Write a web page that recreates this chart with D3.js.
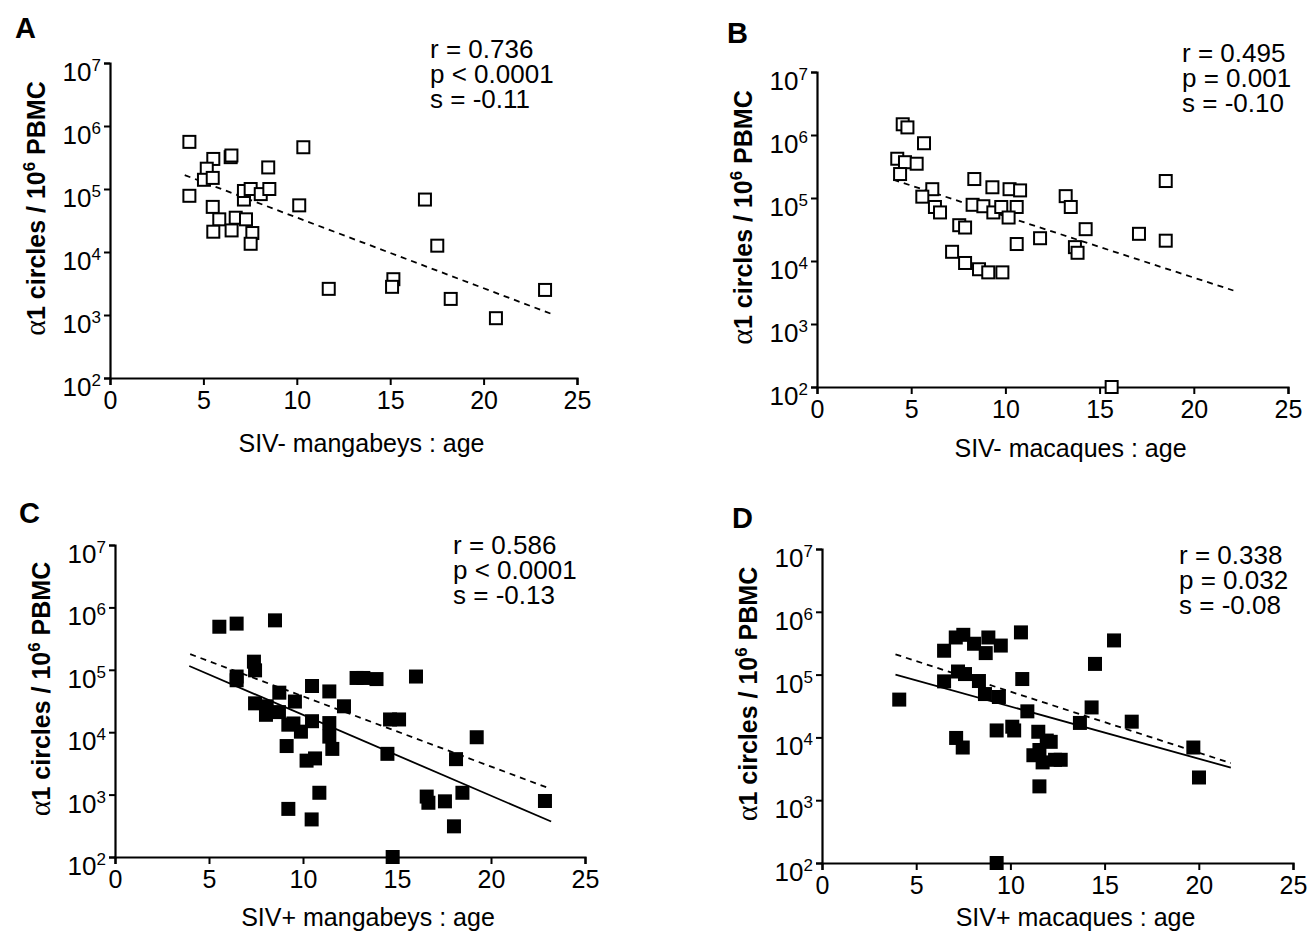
<!DOCTYPE html>
<html lang="en">
    <head>
        <meta charset="utf-8" />
        <title>alpha1 circles vs age</title>
        <script src="https://cdn.jsdelivr.net/npm/d3@7"></script>
        <style>
            body {
                margin: 0;
                background: #fff;
            }
            svg text {
                font-family: "Liberation Sans", Arial, Helvetica, sans-serif;
                fill: #000;
            }
        </style>
    </head>
    <body>
        <div id="chart"></div>

        <script>
            // ages and alpha1 circles per 10^6 PBMC
            var ageA = [4.25, 4.25, 5.53, 5.18, 5.03, 5.5, 6.46, 6.5, 5.5, 5.85, 5.53, 6.51, 6.73, 7.28, 7.17, 7.17, 7.53, 8.07, 8.53, 8.47, 7.62, 7.53, 10.13, 10.35, 11.71, 15.17, 15.1, 16.86, 17.52, 18.24, 20.66, 23.29];
            var circlesA = [5.6e5, 7.8e4, 3.0e5, 2.1e5, 1.4e5, 1.5e5, 3.2e5, 3.4e5, 5.2e4, 3.3e4, 2.1e4, 2.2e4, 3.5e4, 3.3e4, 6.8e4, 9.3e4, 1.0e5, 8.3e4, 1.0e5, 2.2e5, 2.0e4, 1.35e4, 5.5e4, 4.6e5, 2.6e3, 3.7e3, 2.8e3, 6.8e4, 1.26e4, 1.8e3, 890, 2.5e3];

            var ageB = [4.55, 4.8, 5.68, 4.26, 4.67, 5.29, 4.41, 6.12, 5.59, 6.26, 6.53, 7.55, 7.86, 7.17, 7.86, 8.6, 9.09, 9.84, 8.35, 8.26, 8.83, 9.31, 9.36, 9.78, 10.22, 10.78, 10.6, 10.17, 10.6, 11.84, 13.2, 13.47, 14.26, 13.69, 13.83, 15.64, 17.09, 18.51, 18.51];
            var circlesB = [1.48e6, 1.32e6, 7.4e5, 4.2e5, 3.7e5, 3.5e5, 2.4e5, 1.38e5, 1.05e5, 7.2e4, 5.9e4, 3.7e4, 3.4e4, 1.4e4, 9.3e3, 7.4e3, 6.6e3, 6.6e3, 2.0e5, 7.8e4, 7.4e4, 1.48e5, 5.9e4, 7.2e4, 1.38e5, 1.32e5, 7.2e4, 4.9e4, 1.86e4, 2.3e4, 1.07e5, 7.2e4, 3.2e4, 1.66e4, 1.35e4, 100, 2.7e4, 1.86e5, 2.1e4];

            var ageC = [5.55, 6.47, 8.51, 7.39, 7.45, 6.47, 6.47, 8.74, 9.57, 7.45, 8.07, 8.03, 8.72, 9.22, 9.49, 9.89, 9.13, 10.19, 10.64, 10.48, 10.48, 11.4, 11.4, 11.4, 11.56, 12.18, 12.85, 13.21, 13.91, 14.63, 15.11, 14.49, 16.01, 10.87, 9.22, 10.46, 14.77, 16.58, 16.67, 17.55, 18.03, 18.14, 18.48, 19.24, 22.87];
            var circlesC = [4.9e5, 5.5e5, 6.2e5, 1.35e5, 9.8e4, 7.8e4, 6.8e4, 4.3e4, 3.1e4, 2.9e4, 2.6e4, 1.9e4, 2.1e4, 1.32e4, 1.38e4, 1.02e4, 6.0e3, 3.5e3, 3.8e3, 5.5e4, 1.5e4, 4.5e4, 1.4e4, 8.5e3, 5.4e3, 2.6e4, 7.4e4, 7.4e4, 7.1e4, 1.6e4, 1.6e4, 4.5e3, 7.8e4, 1.07e3, 590, 400, 100, 930, 740, 780, 310, 3.7e3, 1.07e3, 8.3e3, 790];

            var ageD = [4.1, 6.48, 6.48, 7.1, 7.5, 8.07, 8.83, 8.69, 9.49, 7.22, 7.59, 8.33, 8.65, 9.39, 10.56, 10.63, 10.9, 9.27, 10.1, 10.2, 7.12, 7.47, 11.48, 11.93, 12.14, 11.22, 11.54, 11.71, 12.37, 12.67, 11.54, 9.27, 13.69, 14.31, 14.49, 15.5, 16.44, 19.71, 20.01];
            var circlesD = [4.0e4, 2.4e5, 7.8e4, 3.9e5, 4.3e5, 3.1e5, 3.9e5, 2.2e5, 2.9e5, 1.12e5, 1.02e5, 7.9e4, 4.9e4, 4.4e4, 4.7e5, 8.5e4, 2.6e4, 1.29e4, 1.48e4, 1.29e4, 9.8e3, 6.9e3, 1.23e4, 8.9e3, 8.5e3, 5.2e3, 6.3e3, 4.0e3, 4.4e3, 4.4e3, 1.66e3, 100, 1.7e4, 3.0e4, 1.48e5, 3.5e5, 1.78e4, 6.9e3, 2.3e3];

            // regression lines: [age start, age end], [value start, value end]
            var dashedA = [[4.0, 23.6], [1.66e5, 1.05e3]];
            var dashedB = [[4.05, 22.1], [1.95e5, 3.4e3]];
            var dashedC = [[4.0, 23.1], [1.78e5, 1.26e3]];
            var solidC = [[3.95, 23.2], [1.15e5, 370]];
            var dashedD = [[3.9, 21.7], [2.1e5, 3.9e3]];
            var solidD = [[3.9, 21.7], [1.0e5, 3.3e3]];

            var stats = {
                A: ["r = 0.736", "p < 0.0001", "s = -0.11"],
                B: ["r = 0.495", "p = 0.001", "s = -0.10"],
                C: ["r = 0.586", "p < 0.0001", "s = -0.13"],
                D: ["r = 0.338", "p = 0.032", "s = -0.08"],
            };
            var xTitles = {
                A: "SIV- mangabeys : age",
                B: "SIV- macaques : age",
                C: "SIV+ mangabeys : age",
                D: "SIV+ macaques : age",
            };
            var xTicks = [0, 5, 10, 15, 20, 25];
            var yTicks = [1e2, 1e3, 1e4, 1e5, 1e6, 1e7];

            var width = 1311;
            var height = 934;

            var svg = d3
                .select("#chart")
                .append("svg")
                .attr("width", width)
                .attr("height", height);

            // pixel frame of each panel
            var panels = [
                { id: "A", x0: 110, x1: 577, yTop: 63, yBot: 378, lab: [15, 38], st: [430, 58], xt: 452, filled: false, age: ageA, val: circlesA, dashed: dashedA, solid: null },
                { id: "B", x0: 817, x1: 1288, yTop: 72, yBot: 387, lab: [727, 43], st: [1182, 62], xt: 457, filled: false, age: ageB, val: circlesB, dashed: dashedB, solid: null },
                { id: "C", x0: 115, x1: 585, yTop: 545, yBot: 857, lab: [19, 523], st: [453, 554], xt: 926, filled: true, age: ageC, val: circlesC, dashed: dashedC, solid: solidC },
                { id: "D", x0: 822, x1: 1293, yTop: 549, yBot: 863, lab: [732, 528], st: [1179, 564], xt: 926, filled: true, age: ageD, val: circlesD, dashed: dashedD, solid: solidD },
            ];

            panels.forEach(draw);

            function draw(p) {
                var x = d3.scaleLinear().domain([0, 25]).range([p.x0, p.x1]);
                var y = d3.scaleLog().domain([1e2, 1e7]).range([p.yBot, p.yTop]);
                var g = svg.append("g");

                // x axis
                var xa = g
                    .append("g")
                    .attr("transform", "translate(0," + p.yBot + ")")
                    .call(d3.axisBottom(x).tickValues(xTicks).tickSize(7).tickPadding(5));
                xa.select(".domain").attr("stroke-width", 2.2);
                xa.selectAll(".tick line").attr("stroke-width", 2);
                xa.selectAll(".tick text")
                    .attr("font-size", 25)
                    .attr("font-family", "Liberation Sans, Arial, sans-serif")
                    .attr("dy", "0.76em");

                // y axis, labels written as 10 with superscript exponent
                var ya = g
                    .append("g")
                    .attr("transform", "translate(" + p.x0 + ",0)")
                    .call(d3.axisLeft(y).tickValues(yTicks).tickSize(6).tickFormat(""));
                ya.select(".domain").attr("stroke-width", 2.2);
                ya.selectAll(".tick line").attr("stroke-width", 2);

                var lbl = g
                    .selectAll(".ylab")
                    .data(yTicks)
                    .enter()
                    .append("text")
                    .attr("class", "ylab")
                    .attr("x", p.x0 - 9)
                    .attr("y", (d) => y(d) + 18)
                    .attr("text-anchor", "end");
                lbl.append("tspan").attr("font-size", 26).text("10");
                lbl.append("tspan")
                    .attr("font-size", 17)
                    .attr("dy", -10)
                    .text((d) => Math.round(Math.log10(d)));

                // y title
                var yt = g
                    .append("text")
                    .attr("transform", "translate(" + (p.x0 - 65) + "," + ((p.yTop + p.yBot) / 2 - 12) + ") rotate(-90)")
                    .attr("text-anchor", "middle")
                    .attr("font-size", 25)
                    .attr("font-weight", "bold");
                yt.append("tspan")
                    .attr("font-family", "Liberation Serif, Times New Roman, serif")
                    .attr("font-weight", "normal")
                    .attr("font-size", 30)
                    .text("\u03b1");
                yt.append("tspan").text("1 circles / 10");
                yt.append("tspan").attr("font-size", 17).attr("dy", -10).text("6");
                yt.append("tspan").attr("dy", 10).text(" PBMC");

                // x title
                g.append("text")
                    .attr("x", (p.x0 + p.x1) / 2 + 18)
                    .attr("y", p.xt)
                    .attr("text-anchor", "middle")
                    .attr("font-size", 25)
                    .text(xTitles[p.id]);

                // panel letter
                g.append("text")
                    .attr("x", p.lab[0])
                    .attr("y", p.lab[1])
                    .attr("font-size", 29)
                    .attr("font-weight", "bold")
                    .text(p.id);

                // stats
                g.selectAll(".st")
                    .data(stats[p.id])
                    .enter()
                    .append("text")
                    .attr("x", p.st[0])
                    .attr("y", (d, i) => p.st[1] + i * 25)
                    .attr("font-size", 26)
                    .text((d) => d);

                // regression lines
                var line = d3
                    .line()
                    .x((d) => x(d[0]))
                    .y((d) => y(d[1]));
                function fit(f) {
                    return [
                        [f[0][0], f[1][0]],
                        [f[0][1], f[1][1]],
                    ];
                }
                if (p.solid) {
                    g.append("path")
                        .attr("d", line(fit(p.solid)))
                        .attr("fill", "none")
                        .attr("stroke", "#000")
                        .attr("stroke-width", 1.8);
                }
                g.append("path")
                    .attr("d", line(fit(p.dashed)))
                    .attr("fill", "none")
                    .attr("stroke", "#000")
                    .attr("stroke-width", 1.8)
                    .attr("stroke-dasharray", "6,5");

                // points
                var pts = p.age.map((a, i) => [a, p.val[i]]);
                var s = p.filled ? 14 : 12;
                g.selectAll(".pt")
                    .data(pts)
                    .enter()
                    .append("rect")
                    .attr("x", (d) => x(d[0]) - s / 2)
                    .attr("y", (d) => y(d[1]) - s / 2)
                    .attr("width", s)
                    .attr("height", s)
                    .attr("fill", p.filled ? "#000" : "#fff")
                    .attr("stroke", "#000")
                    .attr("stroke-width", p.filled ? 0 : 2);
            }
        </script>
    </body>
</html>
